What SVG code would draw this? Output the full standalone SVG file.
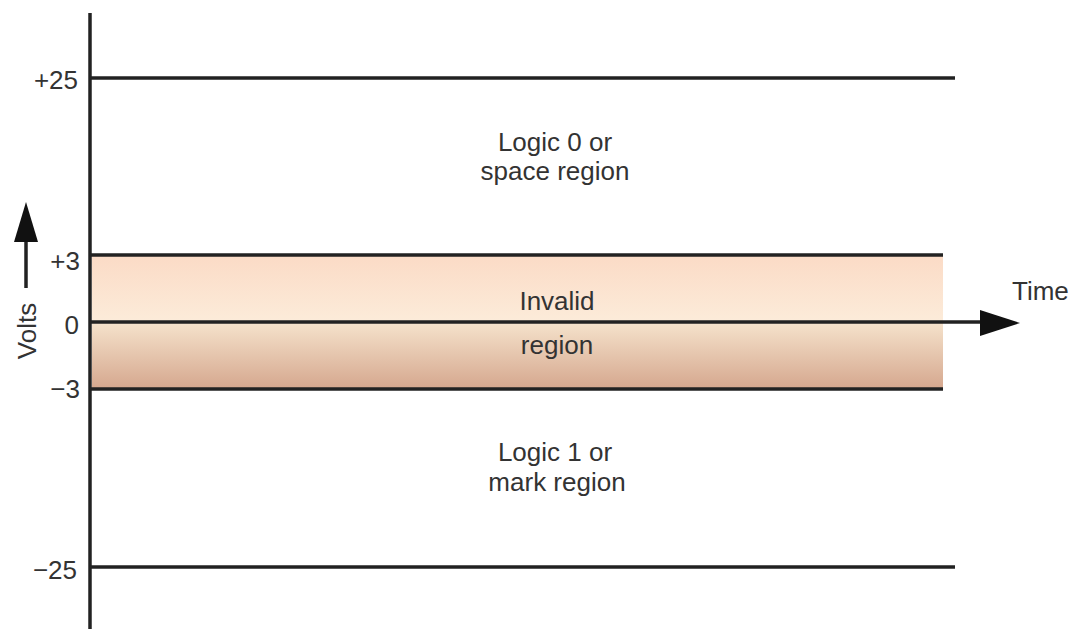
<svg xmlns="http://www.w3.org/2000/svg" width="1072" height="629" viewBox="0 0 1072 629">
  <style>
    .ln{stroke:#222;stroke-width:3.5;fill:none}
    .t{font-family:"Liberation Sans",Arial,sans-serif;font-size:26px;fill:#333}
    .c{text-anchor:middle}
    .e{text-anchor:end}
  </style>
  <defs>
    <linearGradient id="band" x1="0" y1="0" x2="0" y2="1">
      <stop offset="0" stop-color="#fbdbc6"/>
      <stop offset="0.48" stop-color="#fcebd9"/>
      <stop offset="0.52" stop-color="#f4e0c9"/>
      <stop offset="1" stop-color="#d5a78e"/>
    </linearGradient>
  </defs>
  <rect width="1072" height="629" fill="#fff"/>
  <g id="invalid-band">
    <rect x="92" y="256" width="851" height="133" fill="url(#band)"/>
  </g>
  <g id="connectors">
    <line class="ln" x1="90" y1="13" x2="90" y2="629"/>
    <line class="ln" x1="90" y1="78" x2="955" y2="78"/>
    <line class="ln" x1="90" y1="255" x2="943" y2="255"/>
    <line class="ln" x1="90" y1="322" x2="985" y2="322"/>
    <polygon points="980,310 1020,323 980,336" fill="#111"/>
    <line class="ln" x1="90" y1="389" x2="943" y2="389"/>
    <line class="ln" x1="90" y1="567" x2="955" y2="567"/>
    <line class="ln" x1="26" y1="288" x2="26" y2="238"/>
    <polygon points="14,242 26,202 38,242" fill="#111"/>
  </g>
  <g id="labels">
    <text class="t e" x="78" y="89">+25</text>
    <text class="t e" x="80" y="270">+3</text>
    <text class="t e" x="79" y="334">0</text>
    <text class="t e" x="80" y="398">−3</text>
    <text class="t e" x="77" y="579">−25</text>
    <text class="t c" transform="translate(36,331) rotate(-90)">Volts</text>
    <text class="t" x="1012" y="300">Time</text>
  </g>
  <g id="space-region">
    <text class="t c" x="555" y="151">Logic 0 or</text>
    <text class="t c" x="555" y="180">space region</text>
  </g>
  <g id="invalid-region">
    <text class="t c" x="557" y="310">Invalid</text>
    <text class="t c" x="557" y="354">region</text>
  </g>
  <g id="mark-region">
    <text class="t c" x="555" y="461">Logic 1 or</text>
    <text class="t c" x="557" y="491">mark region</text>
  </g>
</svg>
